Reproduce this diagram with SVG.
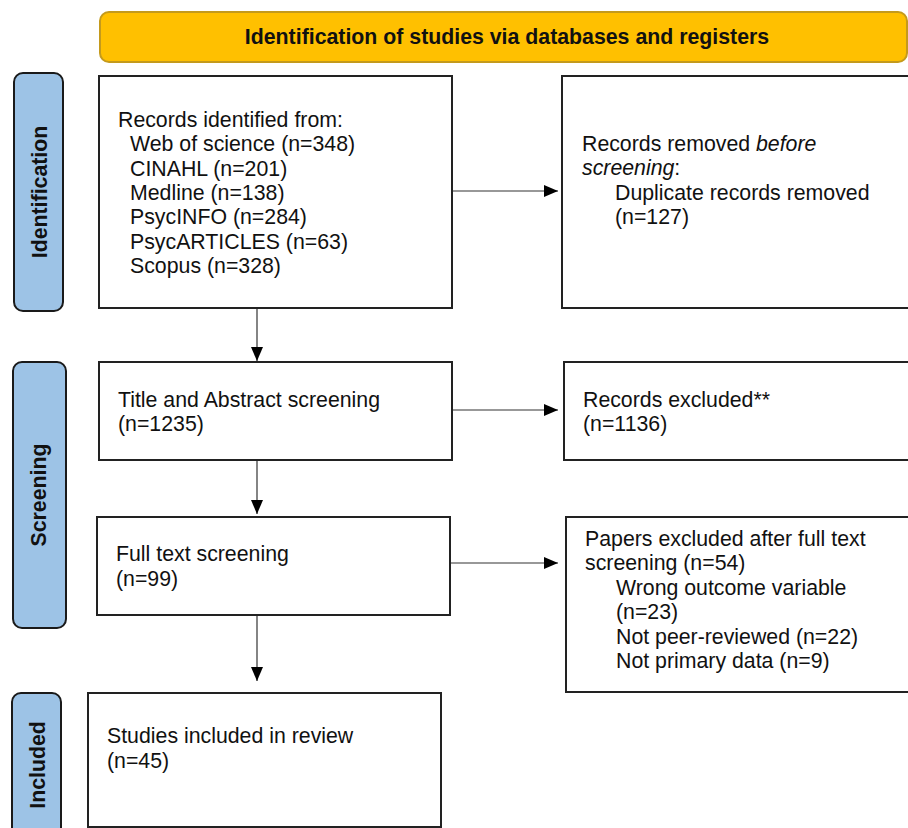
<svg xmlns="http://www.w3.org/2000/svg" width="908" height="828" viewBox="0 0 908 828">
<style>
.box{fill:#fff;stroke:#222;stroke-width:2}
.side{fill:#9DC3E6;stroke:#1a1a1a;stroke-width:2}
.hdr{fill:#FFC000;stroke:#C49A1C;stroke-width:2}
text{font-family:"Liberation Sans",Arial,sans-serif;font-size:21.3px;fill:#111}
.b{font-weight:bold}
.conn{stroke:#333;stroke-width:1.2;fill:none}
</style>
<defs>
<marker id="ah" viewBox="0 0 14 12" refX="14" refY="6" markerWidth="14" markerHeight="12" markerUnits="userSpaceOnUse" orient="auto">
<path d="M0,0 L14,6 L0,12 Z" fill="#000"/>
</marker>
</defs>
<rect width="908" height="828" fill="#fff"/>
<g id="header">
<rect class="hdr" x="100" y="12" width="807" height="50" rx="9"/>
<text class="b" x="507" y="44" text-anchor="middle">Identification of studies via databases and registers</text>
</g>
<g id="side-identification">
<rect class="side" x="14" y="73" width="49" height="238" rx="9"/>
<text class="b" transform="translate(47,192) rotate(-90)" text-anchor="middle">Identification</text>
</g>
<g id="side-screening">
<rect class="side" x="13" y="362" width="53" height="266" rx="9"/>
<text class="b" transform="translate(46,495) rotate(-90)" text-anchor="middle">Screening</text>
</g>
<g id="side-included">
<rect class="side" x="12" y="693" width="49" height="150" rx="9"/>
<text class="b" transform="translate(45,765) rotate(-90)" text-anchor="middle">Included</text>
</g>
<g id="records-identified">
<rect class="box" x="99" y="76" width="353" height="232"/>
<text x="118" y="127">Records identified from:</text>
<text x="130" y="151">Web of science (n=348)</text>
<text x="130" y="176">CINAHL (n=201)</text>
<text x="130" y="200">Medline (n=138)</text>
<text x="130" y="224">PsycINFO (n=284)</text>
<text x="130" y="249">PsycARTICLES (n=63)</text>
<text x="130" y="273">Scopus (n=328)</text>
</g>
<g id="records-removed">
<rect class="box" x="562" y="76" width="360" height="232"/>
<text x="582" y="151">Records removed <tspan font-style="italic">before</tspan></text>
<text x="582" y="175"><tspan font-style="italic">screening</tspan>:</text>
<text x="615" y="200">Duplicate records removed</text>
<text x="615" y="224">(n=127)</text>
</g>
<g id="title-abstract">
<rect class="box" x="99" y="362" width="353" height="98"/>
<text x="118" y="407">Title and Abstract screening</text>
<text x="118" y="431">(n=1235)</text>
</g>
<g id="records-excluded">
<rect class="box" x="564" y="362" width="360" height="98"/>
<text x="583" y="407">Records excluded**</text>
<text x="583" y="431">(n=1136)</text>
</g>
<g id="full-text">
<rect class="box" x="97" y="517" width="353" height="98"/>
<text x="116" y="561">Full text screening</text>
<text x="116" y="586">(n=99)</text>
</g>
<g id="papers-excluded">
<rect class="box" x="566" y="517" width="360" height="175"/>
<text x="585" y="546">Papers excluded after full text</text>
<text x="585" y="570">screening (n=54)</text>
<text x="616" y="595">Wrong outcome variable</text>
<text x="616" y="619">(n=23)</text>
<text x="616" y="644">Not peer-reviewed (n=22)</text>
<text x="616" y="668">Not primary data (n=9)</text>
</g>
<g id="studies-included">
<rect class="box" x="88" y="693" width="353" height="134"/>
<text x="107" y="743">Studies included in review</text>
<text x="107" y="768">(n=45)</text>
</g>
<g id="connectors">
<line class="conn" x1="453" y1="191" x2="558" y2="191" marker-end="url(#ah)"/>
<line class="conn" x1="257" y1="309" x2="257" y2="361" marker-end="url(#ah)"/>
<line class="conn" x1="453" y1="410" x2="558" y2="410" marker-end="url(#ah)"/>
<line class="conn" x1="257" y1="461" x2="257" y2="514" marker-end="url(#ah)"/>
<line class="conn" x1="451" y1="563" x2="558" y2="563" marker-end="url(#ah)"/>
<line class="conn" x1="257" y1="616" x2="257" y2="681" marker-end="url(#ah)"/>
</g>
</svg>
